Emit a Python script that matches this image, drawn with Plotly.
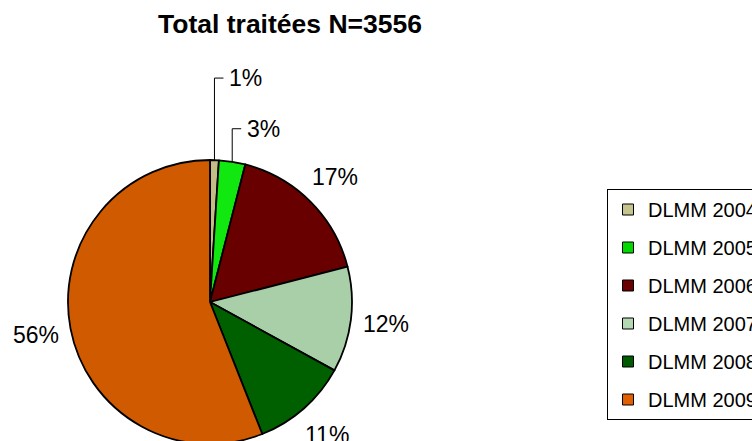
import math
import plotly.graph_objects as go

labels = ["DLMM 2004", "DLMM 2005", "DLMM 2006", "DLMM 2007", "DLMM 2008", "DLMM 2009"]
values = [1, 3, 17, 12, 11, 56]
slice_colors = ["#c4bc86", "#10e810", "#680000", "#a9cfa9", "#006000", "#d05a00"]
legend_colors = ["#c4c48c", "#00d800", "#6a0000", "#b4d8b4", "#005a00", "#e06000"]
title_text = "Total traitées N=3556"

# figure a bit taller/wider than the window: the pie and legend run off the edges
W, H = 780, 446
FONT = "Liberation Sans, Arial, sans-serif"

# pie geometry (figure pixels)
R = 142
CX, CY = 210, 302
LABEL_R = 177
# small slices get a leader line (lift above rim in px)
leader_lift = {0: 82, 1: 33}


def px2paper(x, y):
    return x / W, 1 - y / H


fig = go.Figure()
fig.add_trace(go.Pie(
    labels=labels, values=values, sort=False, direction="clockwise", rotation=0,
    marker=dict(colors=slice_colors, line=dict(color="black", width=1.8)),
    textinfo="none", showlegend=False, hoverinfo="label+percent",
    domain=dict(x=[(CX - R) / W, (CX + R) / W], y=[1 - (CY + R) / H, 1 - (CY - R) / H]),
))

total = sum(values)
cum = 0
annotations = []
shapes = []
for i, v in enumerate(values):
    theta = 2 * math.pi * (cum + v / 2) / total
    cum += v
    pct = f"{round(100 * v / total)}%"
    if i in leader_lift:
        ex, ey = CX + R * math.sin(theta), CY - R * math.cos(theta)
        top = ey - leader_lift[i]
        x0, y0 = px2paper(ex, ey)
        x1, y1 = px2paper(ex, top)
        x2, _ = px2paper(ex + 9, top)
        shapes.append(dict(type="path", xref="paper", yref="paper",
                           path=f"M {x0},{y0} L {x1},{y1} L {x2},{y1}",
                           line=dict(color="black", width=1)))
        lx, ly = px2paper(ex + 13, top)
        annotations.append(dict(x=lx, y=ly, xref="paper", yref="paper", text=pct,
                                showarrow=False, xanchor="left", yanchor="middle",
                                font=dict(family=FONT, size=23, color="black")))
    else:
        lx, ly = px2paper(CX + LABEL_R * math.sin(theta), CY - LABEL_R * math.cos(theta))
        annotations.append(dict(x=lx, y=ly, xref="paper", yref="paper", text=pct,
                                showarrow=False, xanchor="center", yanchor="middle",
                                font=dict(family=FONT, size=23, color="black")))

for lab, col in zip(labels, legend_colors):
    fig.add_trace(go.Scatter(
        x=[None], y=[None], mode="markers", name=lab, legendgroup=lab,
        marker=dict(symbol="square", size=11, color=col, line=dict(color="black", width=1)),
    ))

fig.update_layout(
    width=W, height=H,
    margin=dict(l=0, r=0, t=0, b=0, autoexpand=False),
    paper_bgcolor="white", plot_bgcolor="white",
    xaxis=dict(visible=False), yaxis=dict(visible=False),
    title=dict(text=title_text, x=290 / W, y=1 - 24 / H,
               xanchor="center", yanchor="middle",
               font=dict(family=FONT, size=26.5, color="black", weight="bold")),
    legend=dict(x=607 / W, y=1 - 189 / H, xanchor="left", yanchor="top",
                bordercolor="black", borderwidth=1, bgcolor="white",
                font=dict(family=FONT, size=20, color="black"),
                tracegroupgap=9),
    annotations=annotations,
    shapes=shapes,
)

fig.write_html(
    "out.html",
    config={"displayModeBar": False},
    post_script="document.body.style.margin='0';document.body.style.overflow='hidden';",
)
